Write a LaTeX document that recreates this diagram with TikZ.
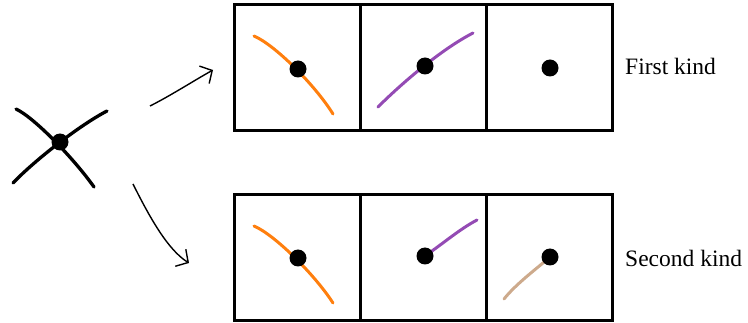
\documentclass[tikz,border=0pt]{standalone}
\usepackage{fontspec}
\setmainfont{Liberation Serif}
\usetikzlibrary{arrows.meta}
\definecolor{myorange}{RGB}{255,127,14}
\definecolor{mypurple}{RGB}{148,75,180}
\definecolor{mytan}{RGB}{205,170,140}
\tikzset{
  cell/.style={draw=black, line width=3pt, minimum width=126pt, minimum height=126pt, inner sep=0pt},
  dot/.style={circle, fill=black, minimum size=17pt, inner sep=0pt},
  stroke/.style={line width=3pt, line cap=round},
  leg/.style={line width=3.3pt, line cap=round},
  arr/.style={line width=1.4pt, -{Straight Barb[length=9pt,width=20pt,line width=1.4pt]}},
  lbl/.style={anchor=base west, font=\fontsize{23.5}{27}\selectfont, inner sep=0pt}
}
\begin{document}
\begin{tikzpicture}[x=1pt,y=-1pt]
\useasboundingbox (0,0) rectangle (748,323);
% vertex
\node[dot] (v) at (60,142) {};
\coordinate (a1) at (16,109); \coordinate (a2) at (94,187);
\coordinate (b1) at (13,183); \coordinate (b2) at (107,111);
\draw[leg] (a1) .. controls (35,118) and (75,160) .. (a2);
\draw[leg] (b1) .. controls (35,160) and (80,125) .. (b2);
% arrows
\coordinate (s1) at (150,106); \coordinate (e1) at (213,70);
\coordinate (s2) at (133,184); \coordinate (e2) at (189,263);
\draw[arr] (s1) .. controls (170,96) and (195,80) .. (e1);
\draw[arr] (s2) .. controls (150,218) and (168,250) .. (e2);
% top row
\node[cell] (t1) at (297.5,68) {};
\node[cell] (t2) at (423.5,68) {};
\node[cell] (t3) at (549.5,68) {};
\draw[stroke, myorange] (254,36) .. controls (275,45) and (315,85) .. (333,114);
\draw[stroke, mypurple] (378,107) .. controls (400,85) and (440,50) .. (473,33);
\node[dot] (d1) at (298,69) {};
\node[dot] (d2) at (425,66) {};
\node[dot] (d3) at (550,68) {};
% bottom row
\node[cell] (u1) at (297.5,257.5) {};
\node[cell] (u2) at (423.5,257.5) {};
\node[cell] (u3) at (549.5,257.5) {};
\coordinate (f1) at (298,258);
\coordinate (f2) at (425,256);
\coordinate (f3) at (550,257);
\coordinate (p2) at (477,220);
\coordinate (p3) at (504,299);
\draw[stroke, myorange] (254,226) .. controls (275,235) and (315,275) .. (333,303);
\draw[stroke, mypurple] (f2) .. controls (445,242) and (460,229) .. (p2);
\draw[stroke, mytan] (f3) .. controls (535,270) and (516,284) .. (p3);
\node[dot] (g1) at (f1) {};
\node[dot] (g2) at (f2) {};
\node[dot] (g3) at (f3) {};
% labels
\node[lbl] (k1) at (625,75) {First kind};
\node[lbl] (k2) at (625,267) {Second kind};
\end{tikzpicture}
\end{document}
